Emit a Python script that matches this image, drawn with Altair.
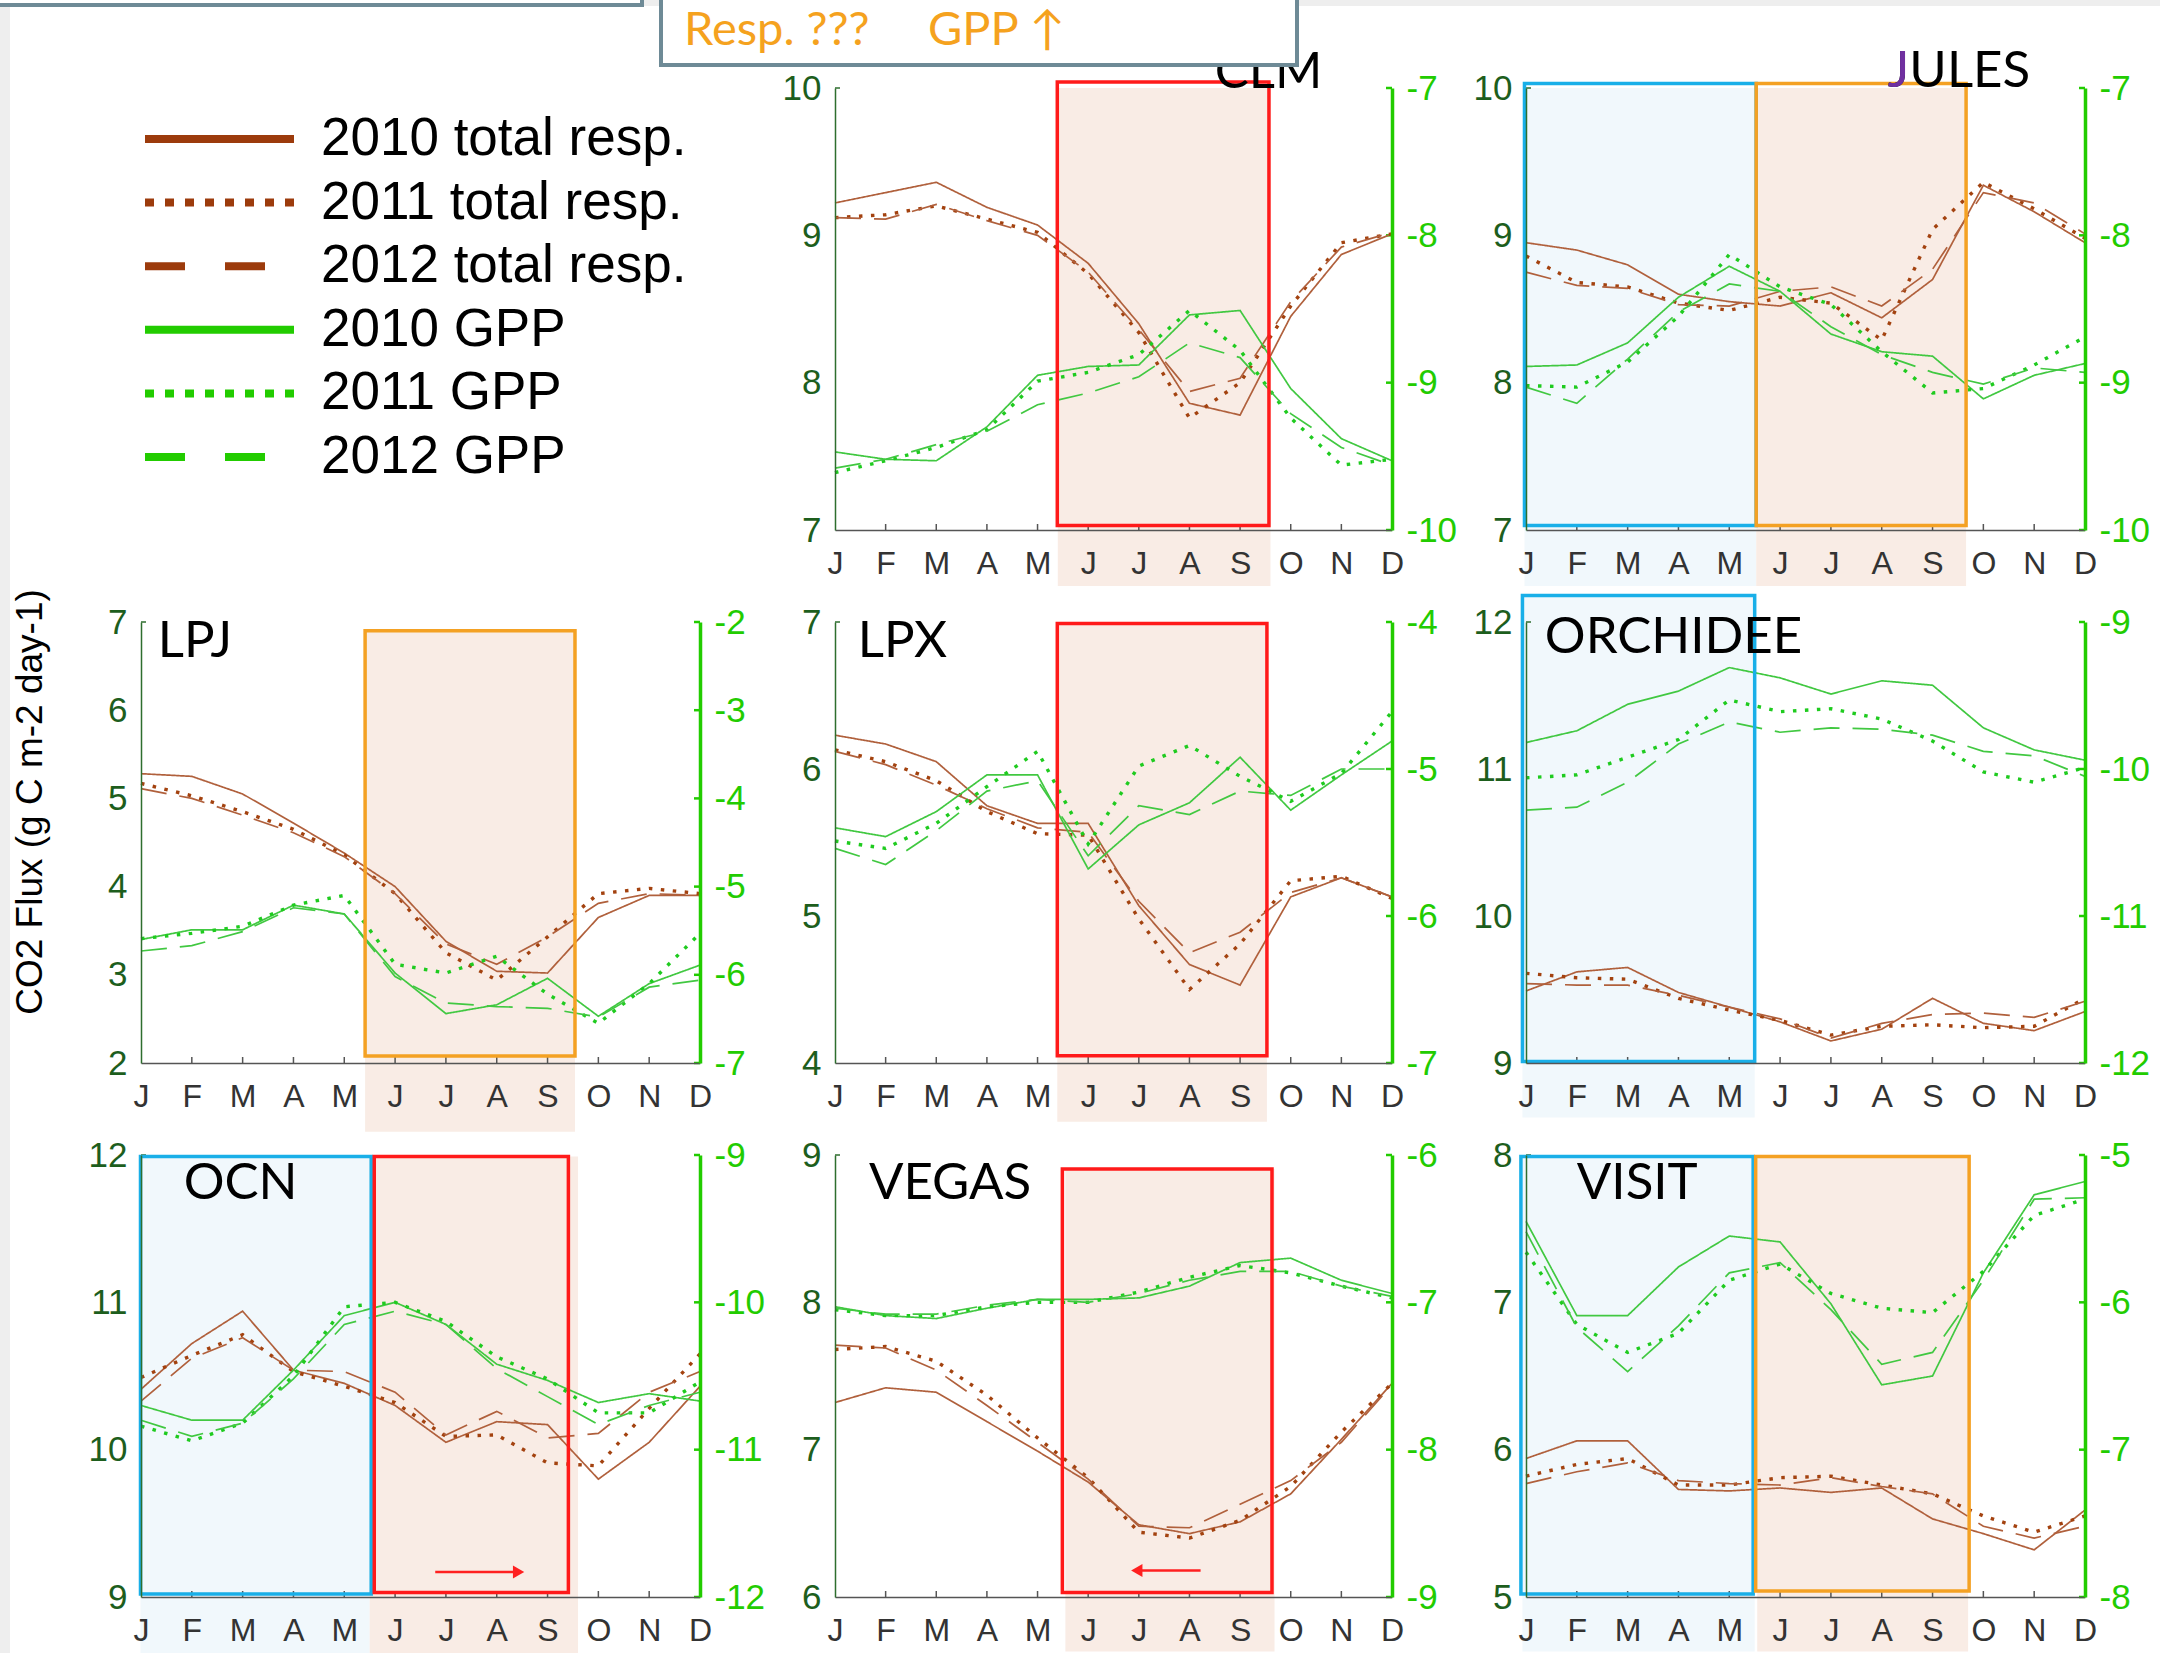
import altair as alt
import pandas as pd

# ---------------------------------------------------------------- data
MONTHS = list(range(1, 13))
MONTH_LETTERS = ["J", "F", "M", "A", "M", "J", "J", "A", "S", "O", "N", "D"]
YEARS = ["2010", "2011", "2012"]
MODELS = ["CLM", "JULES", "LPJ", "LPX", "ORCHIDEE", "OCN", "VEGAS", "VISIT"]

CLM_RESP_2010 = [9.22, 9.29, 9.36, 9.19, 9.07, 8.81, 8.40, 7.86, 7.78, 8.45, 8.87, 9.01]
CLM_RESP_2011 = [9.12, 9.14, 9.20, 9.11, 9.02, 8.74, 8.34, 7.76, 8.00, 8.52, 8.95, 9.01]
CLM_RESP_2012 = [9.12, 9.11, 9.21, 9.10, 9.00, 8.75, 8.36, 7.94, 8.03, 8.55, 8.92, 9.02]
CLM_GPP_2010 = [-9.47, -9.52, -9.53, -9.30, -8.95, -8.89, -8.88, -8.54, -8.51, -9.04, -9.38, -9.53]
CLM_GPP_2011 = [-9.61, -9.53, -9.44, -9.32, -8.99, -8.93, -8.81, -8.51, -8.78, -9.24, -9.56, -9.52]
CLM_GPP_2012 = [-9.58, -9.52, -9.42, -9.33, -9.15, -9.07, -8.96, -8.73, -8.83, -9.21, -9.44, -9.56]

JULES_RESP_2010 = [8.95, 8.90, 8.80, 8.60, 8.55, 8.52, 8.61, 8.44, 8.70, 9.34, 9.16, 8.95]
JULES_RESP_2011 = [8.86, 8.68, 8.65, 8.54, 8.49, 8.58, 8.54, 8.29, 9.04, 9.36, 9.18, 8.98]
JULES_RESP_2012 = [8.75, 8.66, 8.64, 8.53, 8.52, 8.62, 8.65, 8.52, 8.77, 9.29, 9.22, 9.01]
JULES_GPP_2010 = [-8.89, -8.88, -8.73, -8.42, -8.21, -8.38, -8.67, -8.79, -8.82, -9.11, -8.95, -8.87]
JULES_GPP_2011 = [-9.02, -9.03, -8.86, -8.55, -8.13, -8.35, -8.47, -8.79, -9.07, -9.04, -8.88, -8.69]
JULES_GPP_2012 = [-9.03, -9.14, -8.84, -8.52, -8.33, -8.38, -8.62, -8.81, -8.93, -9.01, -8.90, -8.93]

LPJ_RESP_2010 = [5.28, 5.25, 5.05, 4.72, 4.38, 4.00, 3.38, 3.04, 3.02, 3.65, 3.90, 3.90]
LPJ_RESP_2011 = [5.17, 5.03, 4.85, 4.65, 4.36, 3.92, 3.25, 2.94, 3.43, 3.92, 3.98, 3.92]
LPJ_RESP_2012 = [5.11, 5.00, 4.81, 4.61, 4.34, 3.92, 3.35, 3.12, 3.43, 3.81, 3.92, 3.90]
LPJ_GPP_2010 = [-5.60, -5.49, -5.49, -5.21, -5.31, -5.98, -6.44, -6.34, -6.04, -6.47, -6.10, -5.89]
LPJ_GPP_2011 = [-5.59, -5.53, -5.45, -5.21, -5.10, -5.88, -5.98, -5.79, -6.22, -6.55, -6.10, -5.53]
LPJ_GPP_2012 = [-5.73, -5.67, -5.51, -5.24, -5.31, -6.02, -6.32, -6.36, -6.38, -6.48, -6.14, -6.06]

LPX_RESP_2010 = [6.23, 6.17, 6.05, 5.75, 5.63, 5.63, 5.07, 4.67, 4.53, 5.13, 5.26, 5.13]
LPX_RESP_2011 = [6.13, 6.05, 5.92, 5.71, 5.56, 5.55, 4.98, 4.50, 4.81, 5.24, 5.27, 5.12]
LPX_RESP_2012 = [6.12, 6.03, 5.89, 5.73, 5.60, 5.57, 5.10, 4.75, 4.89, 5.16, 5.26, 5.13]
LPX_GPP_2010 = [-5.40, -5.46, -5.29, -5.04, -5.04, -5.68, -5.38, -5.23, -4.92, -5.28, -5.04, -4.81]
LPX_GPP_2011 = [-5.49, -5.54, -5.37, -5.12, -4.88, -5.51, -4.98, -4.84, -5.05, -5.22, -5.03, -4.61]
LPX_GPP_2012 = [-5.54, -5.65, -5.42, -5.15, -5.08, -5.59, -5.25, -5.31, -5.15, -5.18, -5.00, -5.00]

ORCHIDEE_RESP_2010 = [9.49, 9.62, 9.65, 9.48, 9.38, 9.28, 9.15, 9.23, 9.44, 9.27, 9.22, 9.35]
ORCHIDEE_RESP_2011 = [9.61, 9.58, 9.57, 9.44, 9.36, 9.29, 9.19, 9.25, 9.26, 9.24, 9.25, 9.44]
ORCHIDEE_RESP_2012 = [9.54, 9.53, 9.53, 9.46, 9.38, 9.30, 9.17, 9.27, 9.33, 9.34, 9.31, 9.42]
ORCHIDEE_GPP_2010 = [-9.82, -9.74, -9.56, -9.47, -9.31, -9.38, -9.49, -9.40, -9.43, -9.72, -9.87, -9.94]
ORCHIDEE_GPP_2011 = [-10.06, -10.04, -9.92, -9.80, -9.53, -9.61, -9.59, -9.66, -9.81, -10.02, -10.09, -9.99]
ORCHIDEE_GPP_2012 = [-10.28, -10.26, -10.09, -9.83, -9.68, -9.75, -9.72, -9.73, -9.77, -9.88, -9.91, -10.05]

OCN_RESP_2010 = [10.41, 10.72, 10.94, 10.54, 10.45, 10.30, 10.05, 10.19, 10.17, 9.80, 10.05, 10.43]
OCN_RESP_2011 = [10.49, 10.64, 10.78, 10.53, 10.43, 10.32, 10.09, 10.10, 9.91, 9.89, 10.28, 10.65]
OCN_RESP_2012 = [10.33, 10.62, 10.76, 10.54, 10.53, 10.39, 10.10, 10.26, 10.08, 10.11, 10.39, 10.53]
OCN_GPP_2010 = [-10.70, -10.80, -10.80, -10.46, -10.09, -10.00, -10.15, -10.42, -10.53, -10.68, -10.62, -10.67]
OCN_GPP_2011 = [-10.84, -10.94, -10.82, -10.50, -10.03, -10.00, -10.13, -10.37, -10.52, -10.75, -10.75, -10.54]
OCN_GPP_2012 = [-10.80, -10.91, -10.82, -10.52, -10.15, -10.06, -10.15, -10.45, -10.64, -10.83, -10.70, -10.61]

VEGAS_RESP_2010 = [7.32, 7.42, 7.39, 7.19, 6.99, 6.78, 6.49, 6.43, 6.51, 6.70, 7.07, 7.45]
VEGAS_RESP_2011 = [7.68, 7.70, 7.60, 7.37, 7.08, 6.81, 6.44, 6.40, 6.52, 6.75, 7.12, 7.45]
VEGAS_RESP_2012 = [7.71, 7.69, 7.54, 7.30, 7.05, 6.80, 6.48, 6.47, 6.63, 6.79, 7.05, 7.44]
VEGAS_GPP_2010 = [-7.03, -7.09, -7.11, -7.04, -6.98, -6.98, -6.97, -6.89, -6.73, -6.70, -6.85, -6.94]
VEGAS_GPP_2011 = [-7.05, -7.09, -7.09, -7.03, -7.00, -7.00, -6.93, -6.83, -6.75, -6.80, -6.89, -6.97]
VEGAS_GPP_2012 = [-7.04, -7.08, -7.08, -7.02, -6.98, -7.00, -6.94, -6.85, -6.79, -6.79, -6.89, -6.96]

VISIT_RESP_2010 = [5.94, 6.06, 6.06, 5.73, 5.72, 5.74, 5.71, 5.74, 5.53, 5.43, 5.32, 5.59]
VISIT_RESP_2011 = [5.82, 5.90, 5.94, 5.76, 5.76, 5.81, 5.82, 5.76, 5.70, 5.55, 5.44, 5.55]
VISIT_RESP_2012 = [5.77, 5.85, 5.91, 5.79, 5.77, 5.76, 5.81, 5.75, 5.70, 5.48, 5.40, 5.48]
VISIT_GPP_2010 = [-5.45, -6.09, -6.09, -5.76, -5.55, -5.59, -6.01, -6.56, -6.50, -5.80, -5.27, -5.18]
VISIT_GPP_2011 = [-5.66, -6.15, -6.34, -6.21, -5.85, -5.74, -5.94, -6.04, -6.07, -5.79, -5.41, -5.30]
VISIT_GPP_2012 = [-5.52, -6.17, -6.47, -6.16, -5.80, -5.73, -6.05, -6.42, -6.34, -5.85, -5.30, -5.29]

RESP = {
    "CLM": [CLM_RESP_2010, CLM_RESP_2011, CLM_RESP_2012],
    "JULES": [JULES_RESP_2010, JULES_RESP_2011, JULES_RESP_2012],
    "LPJ": [LPJ_RESP_2010, LPJ_RESP_2011, LPJ_RESP_2012],
    "LPX": [LPX_RESP_2010, LPX_RESP_2011, LPX_RESP_2012],
    "ORCHIDEE": [ORCHIDEE_RESP_2010, ORCHIDEE_RESP_2011, ORCHIDEE_RESP_2012],
    "OCN": [OCN_RESP_2010, OCN_RESP_2011, OCN_RESP_2012],
    "VEGAS": [VEGAS_RESP_2010, VEGAS_RESP_2011, VEGAS_RESP_2012],
    "VISIT": [VISIT_RESP_2010, VISIT_RESP_2011, VISIT_RESP_2012],
}
GPP = {
    "CLM": [CLM_GPP_2010, CLM_GPP_2011, CLM_GPP_2012],
    "JULES": [JULES_GPP_2010, JULES_GPP_2011, JULES_GPP_2012],
    "LPJ": [LPJ_GPP_2010, LPJ_GPP_2011, LPJ_GPP_2012],
    "LPX": [LPX_GPP_2010, LPX_GPP_2011, LPX_GPP_2012],
    "ORCHIDEE": [ORCHIDEE_GPP_2010, ORCHIDEE_GPP_2011, ORCHIDEE_GPP_2012],
    "OCN": [OCN_GPP_2010, OCN_GPP_2011, OCN_GPP_2012],
    "VEGAS": [VEGAS_GPP_2010, VEGAS_GPP_2011, VEGAS_GPP_2012],
    "VISIT": [VISIT_GPP_2010, VISIT_GPP_2011, VISIT_GPP_2012],
}

LEFT_TICKS = {"CLM": [7, 8, 9, 10], "JULES": [7, 8, 9, 10], "LPJ": [2, 3, 4, 5, 6, 7],
              "LPX": [4, 5, 6, 7], "ORCHIDEE": [9, 10, 11, 12], "OCN": [9, 10, 11, 12],
              "VEGAS": [6, 7, 8, 9], "VISIT": [5, 6, 7, 8]}
RIGHT_TICKS = {"CLM": [-10, -9, -8, -7], "JULES": [-10, -9, -8, -7], "LPJ": [-7, -6, -5, -4, -3, -2],
               "LPX": [-7, -6, -5, -4], "ORCHIDEE": [-12, -11, -10, -9], "OCN": [-12, -11, -10, -9],
               "VEGAS": [-9, -8, -7, -6], "VISIT": [-8, -7, -6, -5]}

# seasonal windows: (kind, month from, month to, left-axis value bottom, top)
SHADES = {
    "CLM": [("peach", 5.40, 9.60, 6.62, 10.00)],
    "JULES": [("blue", 0.97, 5.53, 6.62, 10.00), ("peach", 5.53, 9.66, 6.62, 10.00)],
    "LPJ": [("peach", 5.41, 9.54, 1.22, 6.90)],
    "LPX": [("peach", 5.39, 9.53, 3.60, 6.99)],
    "ORCHIDEE": [("blue", 0.93, 5.50, 8.63, 12.18)],
    "OCN": [("blue", 0.99, 5.50, 8.62, 11.99), ("peach", 5.50, 9.60, 8.62, 11.99)],
    "VEGAS": [("peach", 5.55, 9.68, 5.63, 8.905)],
    "VISIT": [("blue", 0.93, 5.50, 4.63, 7.99), ("peach", 5.55, 9.70, 4.63, 7.99)],
}
BOXES = {
    "CLM": [("red", 5.39, 9.57, 7.03, 10.04)],
    "JULES": [("blue", 0.97, 5.53, 7.03, 10.03), ("orange", 5.53, 9.66, 7.03, 10.03)],
    "LPJ": [("orange", 5.41, 9.54, 2.08, 6.90)],
    "LPX": [("red", 5.39, 9.53, 4.05, 6.99)],
    "ORCHIDEE": [("blue", 0.93, 5.50, 9.01, 12.18)],
    "OCN": [("blue", 0.99, 5.53, 9.02, 11.99), ("red", 5.59, 9.41, 9.03, 11.99)],
    "VEGAS": [("red", 5.49, 9.63, 6.03, 8.905)],
    "VISIT": [("blue", 0.90, 5.47, 5.02, 7.99), ("orange", 5.52, 9.72, 5.04, 7.99)],
}
# (text, month, left-axis value, align, colour kind)
TITLES = {
    "CLM": [("CLM", 9.56, 10.00, "center", "black")],
    "JULES": [("JULES", 8.12, 10.01, "left", "black"), ("J", 8.12, 10.01, "left", "purple")],
    "LPJ": [("LPJ", 1.33, 6.60, "left", "black")],
    "LPX": [("LPX", 1.45, 6.76, "left", "black")],
    "ORCHIDEE": [("ORCHIDEE", 1.37, 11.79, "left", "black")],
    "OCN": [("OCN", 1.84, 11.70, "left", "black")],
    "VEGAS": [("VEGAS", 1.67, 8.70, "left", "black")],
    "VISIT": [("VISIT", 2.00, 7.70, "left", "black")],
}
# arrows: (month start, month tip, left-axis value)
ARROWS = {"OCN": (6.79, 8.57, 9.17), "VEGAS": (8.22, 6.82, 6.18)}

LEGEND_LABELS = ["2010 total resp.", "2011 total resp.", "2012 total resp.",
                 "2010 GPP", "2011 GPP", "2012 GPP"]
Y_TITLE = "CO2 Flux (g C m-2 day-1)"
TOP_NOTES = ["Resp. ???", "GPP \u2191"]

# ---------------------------------------------------------------- layout & style
W, H = 2160, 1653
COLS = [(141, 700), (835, 1392), (1526, 2085)]
ROWS = [(88, 530), (622, 1063), (1155, 1597)]
PLACE = {"CLM": (1, 0), "JULES": (2, 0), "LPJ": (0, 1), "LPX": (1, 1),
         "ORCHIDEE": (2, 1), "OCN": (0, 2), "VEGAS": (1, 2), "VISIT": (2, 2)}
FONT = "Liberation Sans"
TFONT = "Lato, DejaVu Sans"
FILLS = {"peach": "#F9ECE5", "blue": "#F1F8FC"}
EDGES = {"red": "#FF1A1A", "orange": "#F4A123", "blue": "#19AFE8"}
TXT = {"black": "#000000", "purple": "#7030A0"}
RESP_COL = {"2010": "#B0603C", "2011": "#A3420F", "2012": "#B0603C"}
GPP_COL = {"2010": "#41C841", "2011": "#1FCB1F", "2012": "#41C841"}
LINE_W = {"2010": 1.7, "2011": 3.4, "2012": 1.7}
DASH = [[1, 0], [3.5, 8.5], [26, 13]]
LEG_COLORS = ["#9C3B0C"] * 3 + ["#22CC00"] * 3
LEG_DASH = [[1, 0], [9, 11], [40, 40]] * 2
LEFT_AX = "#2E6E2E"
LEFT_LBL = "#1D5E1D"
RIGHT_AX = "#22CC00"
X_AX = "#555555"
LABEL_EXPR = "[" + ",".join("'%s'" % m for m in MONTH_LETTERS) + "][datum.value - 1]"


def lin(domain, rng):
    return alt.Scale(domain=domain, range=rng, nice=False, zero=False)


def series_frame(lists, colours):
    rows = []
    for yr, vals in zip(YEARS, lists):
        for m, v in zip(MONTHS, vals):
            rows.append({"month": m, "value": v, "year": yr,
                         "c": colours[yr], "w": LINE_W[yr]})
    return pd.DataFrame(rows)


def panel_layers(name):
    ci, ri = PLACE[name]
    x0, x1 = COLS[ci]
    yt, yb = ROWS[ri]
    lt, rt = LEFT_TICKS[name], RIGHT_TICKS[name]
    lo, hi = lt[0], lt[-1]
    rlo, rhi = rt[0], rt[-1]
    ppu = (yb - yt) / (hi - lo)
    ppm = (x1 - x0) / 11.0

    def XS():
        return lin([1, 12], [x0, x1])

    def YL():
        return lin([lo, hi], [yb, yt])

    def YR():
        return lin([rlo, rhi], [yb, yt])

    out = []
    # shaded seasons
    sh = pd.DataFrame(SHADES[name], columns=["kind", "m0", "m1", "v0", "v1"])
    sh["c"] = sh["kind"].map(FILLS)
    out.append(alt.Chart(sh).mark_rect().encode(
        x=alt.X("m0:Q", scale=XS(), axis=None), x2="m1:Q",
        y=alt.Y("v0:Q", scale=YL(), axis=None), y2="v1:Q",
        fill=alt.Fill("c:N", scale=None)))

    # inward ticks on the month axis
    tk = pd.DataFrame({"m": MONTHS[1:-1]})
    tk["v0"] = lo
    tk["v1"] = lo + 6.0 / ppu
    out.append(alt.Chart(tk).mark_rule(color=X_AX, strokeWidth=1.5).encode(
        x=alt.X("m:Q", scale=XS(), axis=None),
        y=alt.Y("v0:Q", scale=YL(), axis=None), y2="v1:Q"))
    # inward ticks on right axis
    rk = pd.DataFrame({"v": rt})
    rk["m0"] = 12.0
    rk["m1"] = 12.0 - 6.0 / ppm
    out.append(alt.Chart(rk).mark_rule(color=RIGHT_AX, strokeWidth=2.5).encode(
        x=alt.X("m0:Q", scale=XS(), axis=None), x2="m1:Q",
        y=alt.Y("v:Q", scale=YR(), axis=None)))
    # small tick at top of left axis
    lk = pd.DataFrame({"v": [hi], "m0": [1.0], "m1": [1.0 + 5.0 / ppm]})
    out.append(alt.Chart(lk).mark_rule(color=LEFT_AX, strokeWidth=1.5).encode(
        x=alt.X("m0:Q", scale=XS(), axis=None), x2="m1:Q",
        y=alt.Y("v:Q", scale=YL(), axis=None)))

    xaxis = alt.Axis(orient="bottom", offset=yb - H, values=MONTHS, labelExpr=LABEL_EXPR,
                     ticks=False, tickSize=0, grid=False, title=None, domainColor=X_AX,
                     domainWidth=1.5, labelFont=FONT, labelFontSize=32, labelColor="#333333",
                     labelPadding=18, labelFlush=False, labelOverlap=False, zindex=1)
    laxis = alt.Axis(orient="left", offset=-x0, values=lt, labelExpr="'' + datum.value",
                     ticks=False, tickSize=0, grid=False, title=None, domainColor=LEFT_AX,
                     domainWidth=1.5, labelFont=FONT, labelFontSize=35, labelColor=LEFT_LBL,
                     labelPadding=14, labelFlush=False, labelOverlap=False, zindex=1)
    raxis = alt.Axis(orient="right", offset=x1 - W, values=rt, labelExpr="'' + datum.value",
                     ticks=False, tickSize=0, grid=False, title=None, domainColor=RIGHT_AX,
                     domainWidth=3.5, labelFont=FONT, labelFontSize=35, labelColor=RIGHT_AX,
                     labelPadding=14, labelFlush=False, labelOverlap=False, zindex=1)

    rdf = series_frame(RESP[name], RESP_COL)
    out.append(alt.Chart(rdf).mark_line().encode(
        x=alt.X("month:Q", scale=XS(), axis=xaxis),
        y=alt.Y("value:Q", scale=YL(), axis=laxis),
        stroke=alt.Stroke("c:N", scale=None),
        strokeWidth=alt.StrokeWidth("w:Q", scale=None),
        strokeDash=alt.StrokeDash("year:N", scale=alt.Scale(domain=YEARS, range=DASH), legend=None),
        detail="year:N"))
    gdf = series_frame(GPP[name], GPP_COL)
    out.append(alt.Chart(gdf).mark_line().encode(
        x=alt.X("month:Q", scale=XS(), axis=None),
        y=alt.Y("value:Q", scale=YR(), axis=raxis),
        stroke=alt.Stroke("c:N", scale=None),
        strokeWidth=alt.StrokeWidth("w:Q", scale=None),
        strokeDash=alt.StrokeDash("year:N", scale=alt.Scale(domain=YEARS, range=DASH), legend=None),
        detail="year:N"))

    # window outlines
    bx = pd.DataFrame(BOXES[name], columns=["kind", "m0", "m1", "v0", "v1"])
    bx["c"] = bx["kind"].map(EDGES)
    out.append(alt.Chart(bx).mark_rect(fillOpacity=0, strokeWidth=3.5).encode(
        x=alt.X("m0:Q", scale=XS(), axis=None), x2="m1:Q",
        y=alt.Y("v0:Q", scale=YL(), axis=None), y2="v1:Q",
        stroke=alt.Stroke("c:N", scale=None)))

    # arrows
    if name in ARROWS:
        a0, a1, av = ARROWS[name]
        d = 1.0 if a1 > a0 else -1.0
        ar = pd.DataFrame({"m0": [a0], "m1": [a1 - d * 0.2], "mt": [a1 - d * 0.14], "v": [av]})
        out.append(alt.Chart(ar).mark_rule(color="#FF2020", strokeWidth=2.5).encode(
            x=alt.X("m0:Q", scale=XS(), axis=None), x2="m1:Q",
            y=alt.Y("v:Q", scale=YL(), axis=None)))
        out.append(alt.Chart(ar).mark_point(
            shape="triangle-right" if d > 0 else "triangle-left", filled=True,
            size=170, color="#FF2020", opacity=1).encode(
            x=alt.X("mt:Q", scale=XS(), axis=None),
            y=alt.Y("v:Q", scale=YL(), axis=None)))

    # model name
    for txt, m, v, align, kind in TITLES[name]:
        td = pd.DataFrame({"t": [txt], "m": [m], "v": [v]})
        out.append(alt.Chart(td).mark_text(
            align=align, baseline="alphabetic", font=TFONT, fontSize=51,
            color=TXT[kind]).encode(
            x=alt.X("m:Q", scale=XS(), axis=None),
            y=alt.Y("v:Q", scale=YL(), axis=None),
            text="t:N"))
    return out


layers = []
for nm in MODELS:
    layers.extend(panel_layers(nm))

# legend block (drawn as rules + labels, one row per series)
leg_df = pd.DataFrame({"label": LEGEND_LABELS})
leg_y = alt.Scale(type="point", domain=LEGEND_LABELS, range=[139, 457], padding=0)
layers.append(alt.Chart(leg_df).mark_rule(strokeWidth=8).encode(
    x=alt.value(145), x2=alt.value(294),
    y=alt.Y("label:N", scale=leg_y, axis=None),
    color=alt.Color("label:N", scale=alt.Scale(domain=LEGEND_LABELS, range=LEG_COLORS), legend=None),
    strokeDash=alt.StrokeDash("label:N", scale=alt.Scale(domain=LEGEND_LABELS, range=LEG_DASH),
                              legend=None)))
layers.append(alt.Chart(leg_df).mark_text(
    align="left", baseline="middle", font=FONT, fontSize=53, color="#000000").encode(
    x=alt.value(321),
    y=alt.Y("label:N", scale=alt.Scale(type="point", domain=LEGEND_LABELS, range=[139, 457],
                                       padding=0), axis=None),
    text="label:N"))

one = pd.DataFrame({"k": [0]})
# slide background strips
layers.append(alt.Chart(one).mark_rect(color="#EEEEEE").encode(
    x=alt.value(0), x2=alt.value(10), y=alt.value(0), y2=alt.value(H)))
layers.append(alt.Chart(one).mark_rect(color="#EEEEEE").encode(
    x=alt.value(0), x2=alt.value(W), y=alt.value(0), y2=alt.value(6)))
# slide boxes at the top
layers.append(alt.Chart(one).mark_rect(fill="#FFFFFF", stroke="#6E8A96", strokeWidth=4).encode(
    x=alt.value(-10), x2=alt.value(642), y=alt.value(-10), y2=alt.value(5)))
layers.append(alt.Chart(one).mark_rect(fill="#FFFFFF", stroke="#6E8A96", strokeWidth=4).encode(
    x=alt.value(661), x2=alt.value(1297), y=alt.value(-10), y2=alt.value(65)))
notes = pd.DataFrame({"t": TOP_NOTES})
layers.append(alt.Chart(notes.iloc[[0]]).mark_text(
    align="left", baseline="alphabetic", font=TFONT, fontSize=47, color="#F5A21E").encode(
    x=alt.value(684), y=alt.value(45), text="t:N"))
layers.append(alt.Chart(notes.iloc[[1]]).mark_text(
    align="left", baseline="alphabetic", font=TFONT, fontSize=47, color="#F5A21E").encode(
    x=alt.value(928), y=alt.value(45), text="t:N"))
# shared y title
layers.append(alt.Chart(pd.DataFrame({"t": [Y_TITLE]})).mark_text(
    angle=270, align="center", baseline="middle", font=FONT, fontSize=37,
    color="#000000").encode(x=alt.value(31), y=alt.value(802), text="t:N"))

chart = alt.layer(*layers).resolve_scale(
    x="independent", y="independent", color="independent", stroke="independent",
    strokeDash="independent", fill="independent", strokeWidth="independent",
).properties(
    width=W, height=H, padding=0, background="#FFFFFF",
    autosize=alt.AutoSizeParams(type="none"),
).configure_view(strokeWidth=0)

chart.save("out.html", embed_options={"renderer": "svg", "actions": False})
